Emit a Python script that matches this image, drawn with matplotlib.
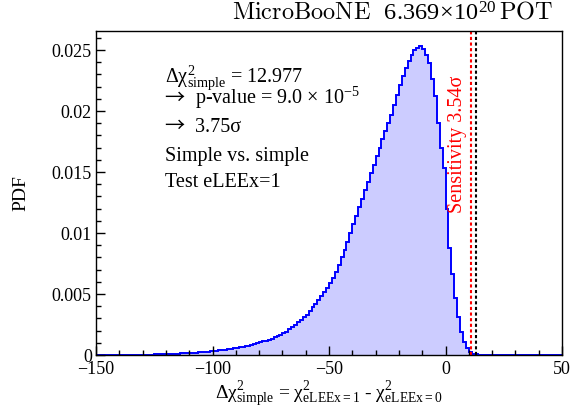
import matplotlib
matplotlib.use('Agg')
import matplotlib.pyplot as plt
import numpy as np
from matplotlib.ticker import MultipleLocator, FuncFormatter

plt.rcParams['font.family'] = ['Liberation Serif', 'DejaVu Serif']
plt.rcParams['mathtext.fontset'] = 'custom'
plt.rcParams['mathtext.rm'] = 'Liberation Serif'
plt.rcParams['mathtext.it'] = 'Liberation Serif:italic'
plt.rcParams['mathtext.default'] = 'regular'

# histogram: bin width 1.25, non-empty part from -130 to 15
bin_width = 1.25
x_lo, x_hi = -150, 50
data_lo = -130
pdf_vals = [
    0.00003, 0.00003, 0.00004, 0.00004, 0.00005, 0.00005, 0.00006, 0.00007,
    0.00008, 0.00009, 0.00010, 0.00011, 0.00012, 0.00013, 0.00014, 0.00016,
    0.00017, 0.00019, 0.00020, 0.00022, 0.00024, 0.00026, 0.00028, 0.00030,
    0.00033, 0.00035, 0.00038, 0.00041, 0.00044, 0.00047, 0.00050, 0.00054,
    0.00058, 0.00062, 0.00067, 0.00072, 0.00077, 0.00083, 0.00089, 0.00096,
    0.00103, 0.00111, 0.00118, 0.00126, 0.00135, 0.00145, 0.00155, 0.00166,
    0.00178, 0.00190, 0.00210, 0.00230, 0.00250, 0.00270, 0.00290, 0.00310,
    0.00330, 0.00360, 0.00390, 0.00420, 0.00450, 0.00480, 0.00520, 0.00550,
    0.00590, 0.00630, 0.00680, 0.00740, 0.00800, 0.00860, 0.00930, 0.01000,
    0.01070, 0.01140, 0.01210, 0.01280, 0.01350, 0.01420, 0.01490, 0.01560,
    0.01630, 0.01700, 0.01770, 0.01840, 0.01900, 0.01970, 0.02050, 0.02130,
    0.02210, 0.02290, 0.02350, 0.02410, 0.02460, 0.02500, 0.02520, 0.02530,
    0.02510, 0.02460, 0.02390, 0.02260, 0.02120, 0.01900, 0.01700, 0.01530,
    0.01200, 0.00880, 0.00660, 0.00470, 0.00310, 0.00190, 0.00110, 0.00060,
    0.00028, 0.00012, 0.00005, 0.00002,
]
delta_chi2 = 12.977
sens_line = 10.9
info_lines = [
    (False, r'$\Delta\chi^{2}_{simple}$ = 12.977'),
    (True, r'p-value = 9.0 × 10$^{-5}$'),
    (True, '3.75σ'),
    (False, 'Simple vs. simple'),
    (False, 'Test eLEEx=1'),
]

n_left = int(round((data_lo - x_lo) / bin_width))
n_total = int(round((x_hi - x_lo) / bin_width))
vals = np.zeros(n_total)
vals[n_left:n_left + len(pdf_vals)] = pdf_vals
edges = x_lo + bin_width * np.arange(n_total + 1)

fig = plt.figure(figsize=(5.88, 4.08), dpi=100)
ax = fig.add_axes([96 / 588, 1 - 355 / 408, 466 / 588, 324 / 408])

ax.stairs(vals, edges, fill=True, color='#ccccff', lw=0)
ax.stairs(vals, edges, color='#0000ff', lw=1.4)

ax.axvline(sens_line, color='red', ls=(0, (1.5, 1.2)), lw=1.5)
ax.axvline(delta_chi2, color='black', ls=(0, (1.5, 1.2)), lw=1.5)

ax.set_xlim(x_lo, x_hi)
ax.set_ylim(0, 0.02656)

ax.xaxis.set_major_locator(MultipleLocator(50))
ax.xaxis.set_minor_locator(MultipleLocator(10))
ax.yaxis.set_major_locator(MultipleLocator(0.005))
ax.yaxis.set_minor_locator(MultipleLocator(0.001))
ax.yaxis.set_major_formatter(FuncFormatter(lambda v, p: '%g' % round(v, 4)))
ax.tick_params(which='both', direction='in', top=False, right=False, labelsize=13)
ax.tick_params(which='major', length=6.5, width=1)
ax.tick_params(which='minor', length=3.3, width=1)
ax.tick_params(axis='x', pad=4)
ax.tick_params(axis='y', pad=3)
for s in ax.spines.values():
    s.set_linewidth(1)

ax.set_ylabel('PDF', fontsize=14, labelpad=16)
ax.set_xlabel(r'$\Delta\chi^{2}_{simple}$ = $\chi^{2}_{eLEEx=1}$ - $\chi^{2}_{eLEEx=0}$',
              fontsize=14, labelpad=1)

baselines = [0.839, 0.776, 0.688, 0.599, 0.519]
for (arrow, t), yb in zip(info_lines, baselines):
    if arrow:
        ax.text(0.146, yb, '→', transform=ax.transAxes, fontsize=14.5,
                va='baseline', ha='left', family=['Noto Sans CJK JP', 'DejaVu Sans'])
        ax.text(0.2124, yb, t, transform=ax.transAxes, fontsize=14.5,
                va='baseline', ha='left')
    else:
        ax.text(0.148, yb, t, transform=ax.transAxes, fontsize=14.5,
                va='baseline', ha='left')

ax.text(0.775, 0.438, 'Sensitivity 3.54σ', transform=ax.transAxes, rotation=90,
        color='red', fontsize=14.5, ha='center', va='bottom')

fig.text(553 / 588, 1 - 20 / 408, r'$\mathrm{MicroBooNE}\ \ 6.369\!\times\!10^{20}\,\mathrm{POT}$',
         ha='right', va='baseline', fontsize=17.5, math_fontfamily='cm')

fig.savefig('out.png', dpi=100)
